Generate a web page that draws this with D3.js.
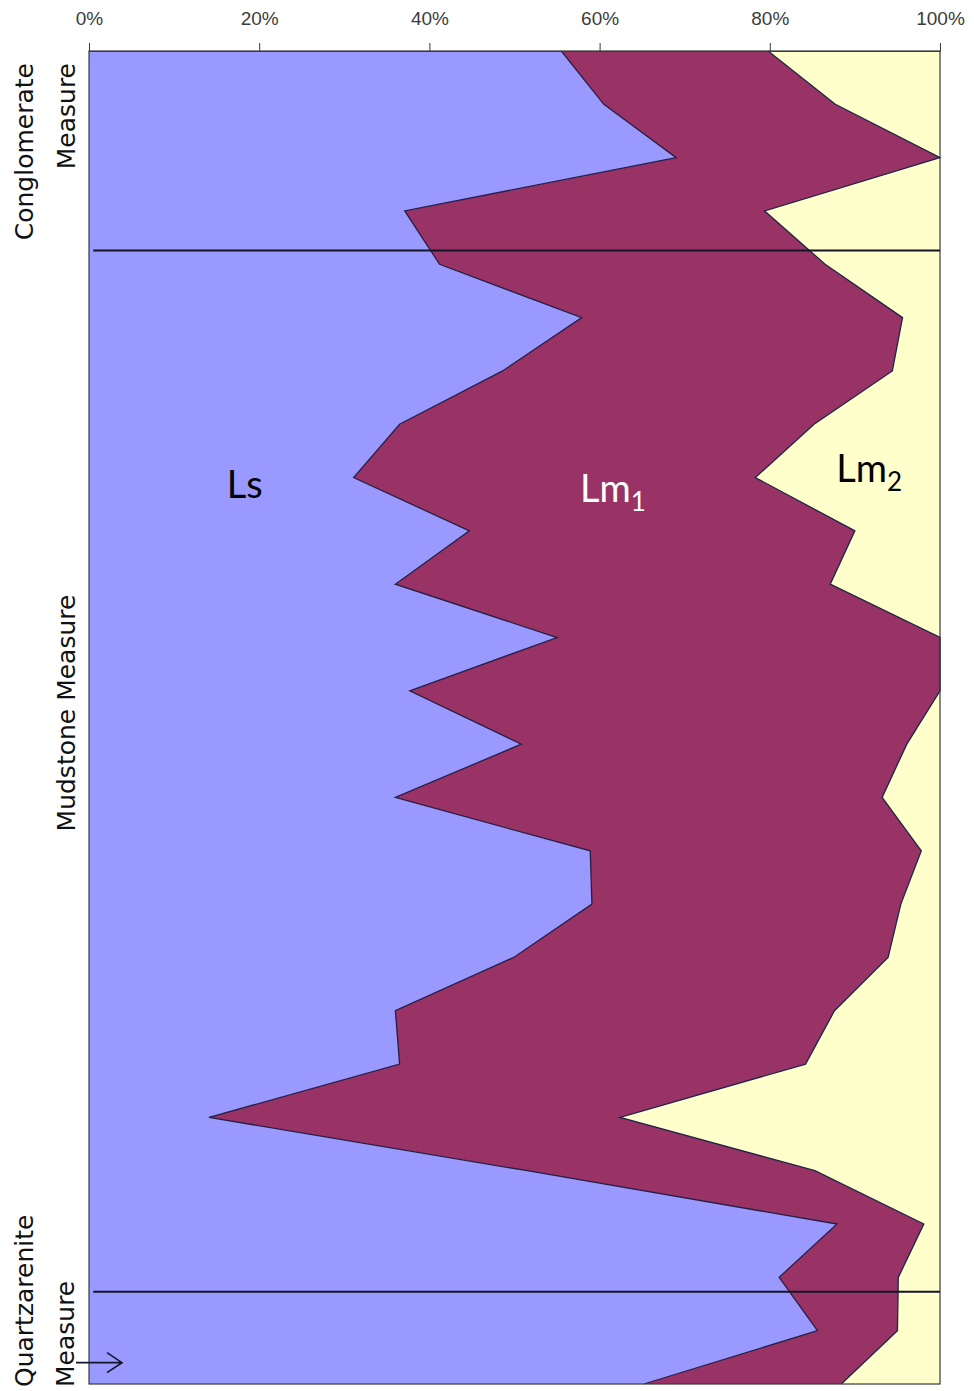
<!DOCTYPE html>
<html>
<head>
<meta charset="utf-8">
<script src="https://cdn.jsdelivr.net/npm/d3@7"></script>
<style>
body { margin: 0; background: #fff; }
svg { display: block; }
</style>
</head>
<body>
<svg id="graphe" width="974" height="1391"></svg>
<script>
// DONNÉES (pourcentages, un échantillon tous les ~53 px)
const echantillons = [1, 2, 3, 4, 5, 6, 7, 8, 9, 10, 11, 12, 13, 14, 15, 16, 17, 18, 19, 20, 21, 22, 23, 24, 25, 26]
const ls  = [55.5, 60.5, 69.0, 37.1, 41.2, 57.9, 48.6, 36.5, 31.1, 44.7, 36.0, 55.0, 37.7, 50.8, 36.0, 58.9, 59.1, 49.9, 36.0, 36.5, 14.1, 51.5, 87.9, 81.1, 85.6, 65.2]
const lm1 = [24.3, 27.2, 31.0, 42.3, 45.3, 37.7, 45.8, 48.7, 47.2, 45.3, 51.1, 45.0, 62.3, 45.3, 57.2, 38.9, 36.3, 44.0, 51.6, 47.7, 48.3, 33.8, 10.2, 14.0, 9.4, 23.2]
const lm2 = [20.2, 12.3, 0.0, 20.6, 13.5, 4.4, 5.6, 14.8, 21.7, 10.0, 12.9, 0.0, 0.0, 3.9, 6.8, 2.2, 4.6, 6.1, 12.4, 15.8, 37.6, 14.7, 1.9, 4.9, 5.0, 11.6]
const series = ['Ls', 'Lm1', 'Lm2']
const couleurs = ['#9999FF', '#993366', '#FFFFCC']
const graduations = [0, 0.2, 0.4, 0.6, 0.8, 1]
const etiquettesGraduations = ['0%', '20%', '40%', '60%', '80%', '100%']
// limites entre les mesures, en position d'échantillon
const limitesMesures = [4.74, 24.27]

// MISE EN FORME DES DONNÉES
const table = echantillons.map((e, i) => ({ echantillon: e, Ls: ls[i], Lm1: lm1[i], Lm2: lm2[i] }))
const pile = d3.stack().keys(series).offset(d3.stackOffsetExpand)(table)

// ÉCHELLES
const gauche = 89, droite = 940, haut = 51, bas = 1384
const x = d3.scaleLinear().domain([0, 1]).range([gauche, droite])
const y = d3.scaleLinear().domain([1, 26]).range([haut, bas])

const svg = d3.select('#graphe')

// Les trois aires empilées
const aire = d3.area()
    .x0(d => x(d[0]))
    .x1(d => x(d[1]))
    .y(d => y(d.data.echantillon))
svg.selectAll('path.serie')
    .data(pile)
    .join('path')
    .attr('class', 'serie')
    .attr('d', aire)
    .attr('fill', (d, i) => couleurs[i])

// Contour foncé entre les séries
const contour = d3.line()
    .x(d => x(d[1]))
    .y(d => y(d.data.echantillon))
svg.selectAll('path.contour')
    .data(pile.slice(0, 2))
    .join('path')
    .attr('class', 'contour')
    .attr('d', contour)
    .attr('fill', 'none')
    .style('stroke', '#22204a')
    .style('stroke-width', 1.3)

// Cadre du graphique
svg.append('rect')
    .attr('x', gauche)
    .attr('y', haut)
    .attr('width', droite - gauche)
    .attr('height', bas - haut)
    .attr('fill', 'none')
    .style('stroke', '#3a3a3a')
    .style('stroke-width', 1.2)

// Axe du haut
const axe = d3.axisTop(x)
    .tickValues(graduations)
    .tickFormat((d, i) => etiquettesGraduations[i])
    .tickSize(8)
    .tickPadding(18)
const gAxe = svg.append('g')
    .attr('transform', `translate(0,${haut})`)
    .call(axe)
gAxe.select('.domain').style('stroke', '#3a3a3a')
gAxe.selectAll('.tick line').style('stroke', '#3a3a3a')
gAxe.selectAll('.tick text')
    .attr('font-family', '"Liberation Sans", Arial, sans-serif')
    .attr('font-size', 19)
    .attr('fill', '#3c3c3c')

// Lignes de séparation des mesures
svg.selectAll('line.limite')
    .data(limitesMesures)
    .join('line')
    .attr('class', 'limite')
    .attr('x1', x(0.005))
    .attr('x2', x(1))
    .attr('y1', d => y(d))
    .attr('y2', d => y(d))
    .style('stroke', '#15152a')
    .style('stroke-width', 2)

// Noms des séries dans les aires
const police = 'Lato, "Open Sans", sans-serif'
svg.append('text')
    .attr('x', x(0.162))
    .attr('y', 498)
    .attr('font-family', police)
    .attr('font-size', 38)
    .attr('fill', '#000')
    .text('Ls')
const lm1Texte = svg.append('text')
    .attr('x', x(0.577))
    .attr('y', 502)
    .attr('font-family', police)
    .attr('font-size', 38)
    .attr('fill', '#fff')
lm1Texte.append('tspan').text('Lm')
lm1Texte.append('tspan').attr('font-size', 26).attr('dy', 9).text('1')
const lm2Texte = svg.append('text')
    .attr('x', x(0.878))
    .attr('y', 482)
    .attr('font-family', police)
    .attr('font-size', 38)
    .attr('fill', '#000')
lm2Texte.append('tspan').text('Lm')
lm2Texte.append('tspan').attr('font-size', 26).attr('dy', 9).text('2')

// Étiquettes verticales des mesures
const policeMesures = '"DejaVu Sans", Verdana, sans-serif'
function etiquetteVerticale(texte, xBase, yPos, ancrage){
    svg.append('text')
        .attr('transform', `translate(${xBase},${yPos}) rotate(-90)`)
        .attr('text-anchor', ancrage)
        .attr('font-family', policeMesures)
        .attr('font-size', 25)
        .attr('fill', '#111')
        .text(texte)
}
etiquetteVerticale('Conglomerate', 33, 63, 'end')
etiquetteVerticale('Measure', 75, 63, 'end')
etiquetteVerticale('Mudstone Measure', 75, 713, 'middle')
etiquetteVerticale('Quartzarenite', 33, 1387, 'start')
etiquetteVerticale('Measure', 74, 1387, 'start')

// Flèche du bas
const yFleche = y(25.6)
svg.append('path')
    .attr('d', `M76,${yFleche} H122 M107,${yFleche - 10} L122,${yFleche} L107,${yFleche + 10}`)
    .attr('fill', 'none')
    .style('stroke', '#15152a')
    .style('stroke-width', 1.6)
</script>
</body>
</html>
